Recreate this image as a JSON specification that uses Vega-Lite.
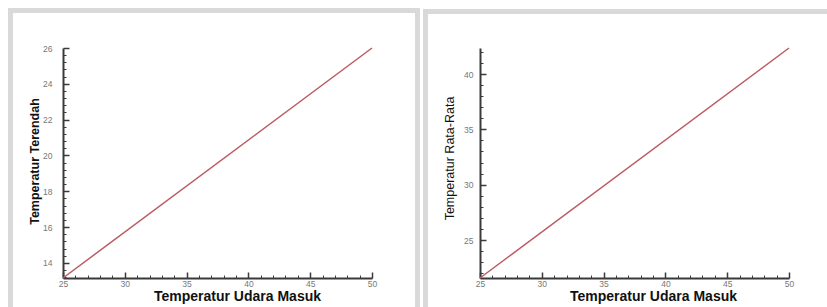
{
  "$schema": "https://vega.github.io/schema/vega-lite/v6.json",
  "padding": {"left": 7, "top": 8, "right": 0, "bottom": 0},
  "autosize": {"type": "pad"},
  "background": "white",
  "spacing": 108,
  "bounds": "flush",
  "config": {
    "view": {"stroke": null},
    "font": "Liberation Sans",
    "axis": {
      "grid": false,
      "tickCount": 200,
      "format": "d",
      "domainColor": "#3a3a3a",
      "domainWidth": 2,
      "tickColor": "#3a3a3a",
      "labelColor": "#777777",
      "labelFontSize": 8.5,
      "labelFont": "Liberation Sans",
      "labelOverlap": false,
      "labelFlush": false,
      "titleColor": "#111111",
      "titleFont": "Liberation Sans"
    }
  },
  "datasets": {
    "terendah": [{"inlet": 25, "temp": 13.16}, {"inlet": 50, "temp": 26}],
    "ratarata": [{"inlet": 25, "temp": 21.57}, {"inlet": 50, "temp": 42.35}]
  },
  "hconcat": [
    {
      "width": 309,
      "height": 230,
      "layer": [
        {
          "data": {"values": [{}]},
          "mark": {"type": "rect", "color": "#d9d9d9"},
          "encoding": {
            "x": {"datum": 20.55, "type": "quantitative", "scale": {"domain": [25, 50], "nice": false, "zero": false}},
            "x2": {"datum": 20.95},
            "y": {"datum": 28.23, "type": "quantitative", "scale": {"domain": [13.16, 26], "nice": false, "zero": false}},
            "y2": {"datum": 11.54}
          }
        },
        {
          "data": {"values": [{}]},
          "mark": {"type": "rect", "color": "#d9d9d9"},
          "encoding": {
            "x": {"datum": 20.55, "type": "quantitative", "scale": {"domain": [25, 50], "nice": false, "zero": false}},
            "x2": {"datum": 53.88},
            "y": {"datum": 28.23, "type": "quantitative", "scale": {"domain": [13.16, 26], "nice": false, "zero": false}},
            "y2": {"datum": 27.95}
          }
        },
        {
          "data": {"values": [{}]},
          "mark": {"type": "rect", "color": "#d9d9d9"},
          "encoding": {
            "x": {"datum": 53.48, "type": "quantitative", "scale": {"domain": [25, 50], "nice": false, "zero": false}},
            "x2": {"datum": 53.88},
            "y": {"datum": 28.23, "type": "quantitative", "scale": {"domain": [13.16, 26], "nice": false, "zero": false}},
            "y2": {"datum": 11.54}
          }
        },
        {
          "data": {"name": "terendah"},
          "mark": {"type": "line", "color": "#bd5b63", "strokeWidth": 1.5},
          "encoding": {
            "x": {
              "field": "inlet",
              "type": "quantitative",
              "scale": {"domain": [25, 50], "nice": false, "zero": false},
              "axis": {
                "title": "Temperatur Udara Masuk",
                "values": [25, 26, 27, 28, 29, 30, 31, 32, 33, 34, 35, 36, 37, 38, 39, 40, 41, 42, 43, 44, 45, 46, 47, 48, 49, 50],
                "labelExpr": "datum.value % 5 === 0 ? datum.label : ''",
                "tickSize": {"condition": {"test": "datum.value % 5 === 0", "value": -6}, "value": -3},
                "tickWidth": {"condition": {"test": "datum.value % 5 === 0", "value": 1.5}, "value": 1},
                "labelPadding": 7,
                "titleFontSize": 14,
                "titleFontWeight": "bold",
                "titleX": 174,
                "titleY": 18,
                "titleBaseline": "middle"
              }
            },
            "y": {
              "field": "temp",
              "type": "quantitative",
              "scale": {"domain": [13.16, 26], "nice": false, "zero": false},
              "axis": {
                "title": "Temperatur Terendah",
                "values": [13.2, 13.6, 14, 14.4, 14.8, 15.2, 15.6, 16, 16.4, 16.8, 17.2, 17.6, 18, 18.4, 18.8, 19.2, 19.6, 20, 20.4, 20.8, 21.2, 21.6, 22, 22.4, 22.8, 23.2, 23.6, 24, 24.4, 24.8, 25.2, 25.6, 26],
                "labelExpr": "datum.value % 2 === 0 ? datum.label : ''",
                "tickSize": {"condition": {"test": "datum.value % 2 === 0", "value": -6}, "value": -3},
                "tickWidth": {"condition": {"test": "datum.value % 2 === 0", "value": 1.5}, "value": 1},
                "labelPadding": 17,
                "titleFontSize": 12.5,
                "titleFontWeight": "bold",
                "titleX": -29,
                "titleY": 113,
                "titleBaseline": "middle"
              }
            }
          }
        }
      ]
    },
    {
      "width": 309,
      "height": 230,
      "layer": [
        {
          "data": {"values": [{}]},
          "mark": {"type": "rect", "color": "#d9d9d9"},
          "encoding": {
            "x": {"datum": 20.39, "type": "quantitative", "scale": {"domain": [25, 50], "nice": false, "zero": false}},
            "x2": {"datum": 20.79},
            "y": {"datum": 45.87, "type": "quantitative", "scale": {"domain": [21.57, 42.35], "nice": false, "zero": false}},
            "y2": {"datum": 18.86}
          }
        },
        {
          "data": {"values": [{}]},
          "mark": {"type": "rect", "color": "#d9d9d9"},
          "encoding": {
            "x": {"datum": 20.39, "type": "quantitative", "scale": {"domain": [25, 50], "nice": false, "zero": false}},
            "x2": {"datum": 53.16},
            "y": {"datum": 45.87, "type": "quantitative", "scale": {"domain": [21.57, 42.35], "nice": false, "zero": false}},
            "y2": {"datum": 45.42}
          }
        },
        {
          "data": {"name": "ratarata"},
          "mark": {"type": "line", "color": "#bd5b63", "strokeWidth": 1.5},
          "encoding": {
            "x": {
              "field": "inlet",
              "type": "quantitative",
              "scale": {"domain": [25, 50], "nice": false, "zero": false},
              "axis": {
                "title": "Temperatur Udara Masuk",
                "values": [25, 26, 27, 28, 29, 30, 31, 32, 33, 34, 35, 36, 37, 38, 39, 40, 41, 42, 43, 44, 45, 46, 47, 48, 49, 50],
                "labelExpr": "datum.value % 5 === 0 ? datum.label : ''",
                "tickSize": {"condition": {"test": "datum.value % 5 === 0", "value": -6}, "value": -3},
                "tickWidth": {"condition": {"test": "datum.value % 5 === 0", "value": 1.5}, "value": 1},
                "labelPadding": 7,
                "titleFontSize": 14,
                "titleFontWeight": "bold",
                "titleX": 173,
                "titleY": 18,
                "titleBaseline": "middle"
              }
            },
            "y": {
              "field": "temp",
              "type": "quantitative",
              "scale": {"domain": [21.57, 42.35], "nice": false, "zero": false},
              "axis": {
                "title": "Temperatur Rata-Rata",
                "values": [22, 23, 24, 25, 26, 27, 28, 29, 30, 31, 32, 33, 34, 35, 36, 37, 38, 39, 40, 41, 42],
                "labelExpr": "datum.value % 5 === 0 ? datum.label : ''",
                "tickSize": {"condition": {"test": "datum.value % 5 === 0", "value": -6}, "value": -3},
                "tickWidth": {"condition": {"test": "datum.value % 5 === 0", "value": 1.5}, "value": 1},
                "labelPadding": 13,
                "titleFontSize": 12.5,
                "titleFontWeight": "normal",
                "titleX": -31,
                "titleY": 110,
                "titleBaseline": "middle"
              }
            }
          }
        }
      ]
    }
  ]
}
